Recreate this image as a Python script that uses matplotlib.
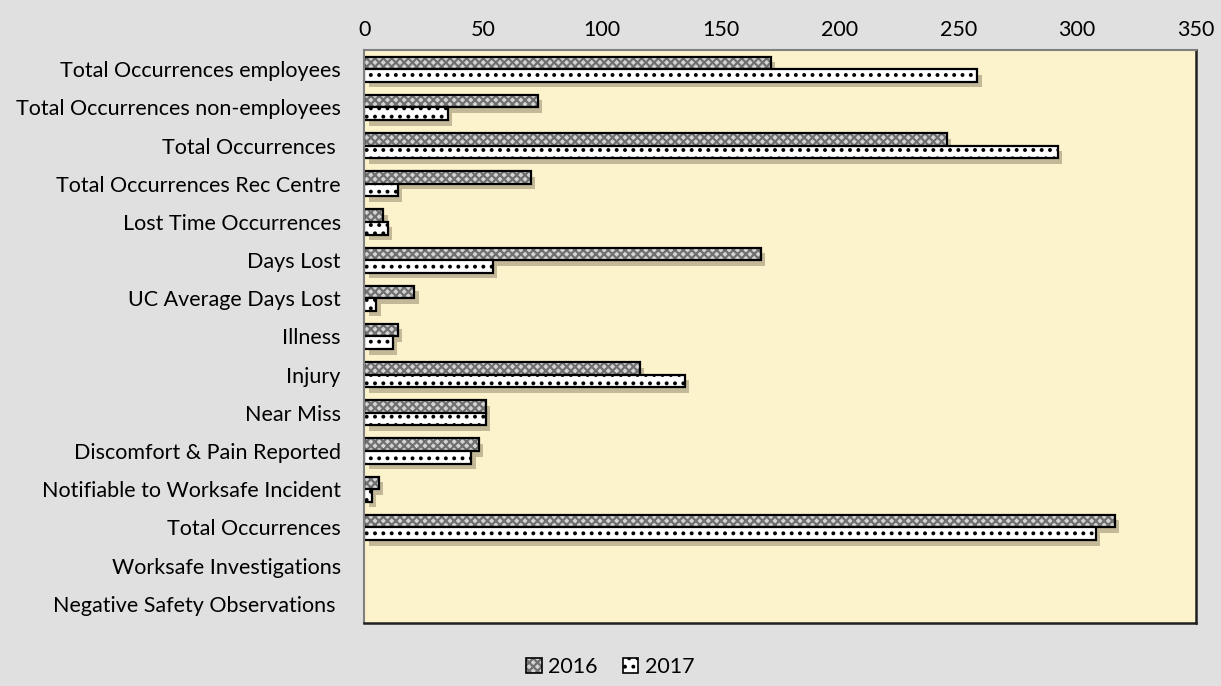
import matplotlib.pyplot as plt
import matplotlib.patheffects as pe
from matplotlib.patches import Patch
import numpy as np

# categories, top to bottom as in the chart
categories = [
    'Total Occurrences employees',
    'Total Occurrences non-employees',
    'Total Occurrences ',
    'Total Occurrences Rec Centre',
    'Lost Time Occurrences',
    'Days Lost',
    'UC Average Days Lost',
    'Illness',
    'Injury',
    'Near Miss',
    'Discomfort & Pain Reported',
    'Notifiable to Worksafe Incident',
    'Total Occurrences',
    'Worksafe Investigations',
    'Negative Safety Observations ',
]
values_2016 = [171, 73, 245, 70, 8, 167, 21, 14, 116, 51, 48, 6, 316, 0, 0]
values_2017 = [258, 35, 292, 14, 10, 54, 5, 12, 135, 51, 45, 3, 308, 0, 0]
x_ticks = [0, 50, 100, 150, 200, 250, 300, 350]

plt.rcParams['font.family'] = ['Lato', 'DejaVu Sans']
plt.rcParams['hatch.linewidth'] = 1.6

fig = plt.figure(figsize=(12.21, 6.86), dpi=100, facecolor='#e0e0e0')
ax = fig.add_axes([0.2985, 0.092, 0.681, 0.835])
ax.set_facecolor('#fcf2cb')

y = np.arange(len(categories))
h = 0.33
shadow_only = [pe.SimplePatchShadow(offset=(3, -4), shadow_rgbFace='#6e6550', alpha=0.4)]

# style per series: face colour, hatch colour, hatch
styles = {'2016': ('#d4d4d4', '#707070', 'xxxx'), '2017': ('white', 'black', '..')}
series = [('2016', values_2016, -h / 2), ('2017', values_2017, h / 2)]

# soft shadows first
for name, vals, off in series:
    sb = ax.barh(y + off, vals, height=h, color='black', linewidth=0)
    for bar in sb:
        bar.set_path_effects(shadow_only)

# hatched fills, then black outlines on top
handles = []
for name, vals, off in series:
    fc, hc, hatch = styles[name]
    ax.barh(y + off, vals, height=h, color=fc, edgecolor=hc, hatch=hatch, linewidth=0)
    lw = [1.6 if v > 0 else 0 for v in vals]
    ax.barh(y + off, vals, height=h, fill=False, edgecolor='black', linewidth=lw)
    handles.append((Patch(facecolor=fc, edgecolor=hc, hatch=hatch, linewidth=0),
                    Patch(fill=False, edgecolor='black', linewidth=1.2)))

ax.set_xlim(0, 350)
ax.set_ylim(len(categories) - 0.5, -0.5)
ax.set_xticks(x_ticks)
ax.xaxis.tick_top()
ax.tick_params(axis='x', length=0, labelsize=15.5, pad=7)
ax.set_yticks(y)
ax.set_yticklabels(categories, fontsize=15.5)
ax.tick_params(axis='y', length=0, pad=17)

for side in ['left', 'top']:
    ax.spines[side].set_color('#808080')
    ax.spines[side].set_linewidth(1.5)
for side in ['right', 'bottom']:
    ax.spines[side].set_color('#202020')
    ax.spines[side].set_linewidth(1.8)

fig.legend(handles=handles, labels=['2016', '2017'], loc='center',
           bbox_to_anchor=(0.5, 0.027), ncol=2, frameon=False, fontsize=15.5,
           handlelength=0.7, handleheight=0.7, handletextpad=0.3, columnspacing=1.2)

fig.savefig('out.png', dpi=100, facecolor=fig.get_facecolor())
